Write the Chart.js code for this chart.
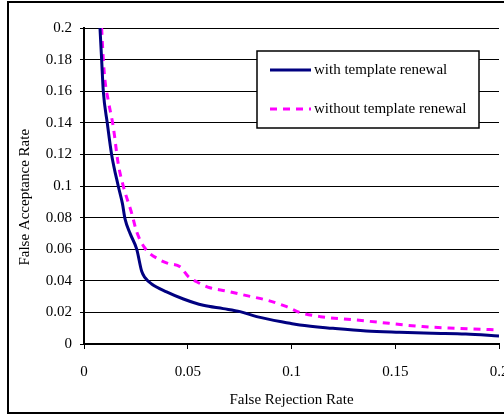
<!DOCTYPE html>
<html>
<head>
<meta charset="utf-8">
<script src="https://cdn.jsdelivr.net/npm/chart.js@4/dist/chart.umd.min.js"></script>
<style>
  html, body { margin: 0; padding: 0; overflow: hidden; background: #fff; }
  #wrap { position: absolute; left: 0; top: 0; width: 530px; height: 415px; }
  #frame { position: absolute; left: 7px; top: 1px; width: 600px; height: 413px;
           box-sizing: border-box; border: 2px solid #000; pointer-events: none; }
</style>
</head>
<body>
<div id="wrap"><canvas id="roc"></canvas></div>
<div id="frame"></div>
<script>
// FRR / FAR readings
const withRenewalFRR = [0.0077, 0.0085, 0.0093, 0.0112, 0.0133, 0.0165, 0.0185, 0.0198, 0.0222, 0.0254,
  0.0278, 0.0294, 0.0326, 0.0398, 0.0479, 0.0575, 0.0671, 0.0752, 0.0832, 0.0993,
  0.104, 0.12, 0.136, 0.152, 0.168, 0.184, 0.2];
const withRenewalFAR = [0.2, 0.18, 0.16, 0.14, 0.12, 0.1, 0.089, 0.079, 0.07, 0.06,
  0.046, 0.042, 0.038, 0.033, 0.0285, 0.0245, 0.0224, 0.0205, 0.0173, 0.0131,
  0.012, 0.0099, 0.0082, 0.0074, 0.0068, 0.0063, 0.005];

const withoutRenewalFRR = [0.0085, 0.0093, 0.0101, 0.0117, 0.0141, 0.0165, 0.019, 0.023, 0.0254, 0.0294,
  0.0366, 0.0406, 0.0463, 0.0503, 0.0543, 0.0607, 0.0688, 0.0784, 0.088, 0.0977,
  0.104, 0.114, 0.131, 0.147, 0.163, 0.181, 0.2];
const withoutRenewalFAR = [0.2, 0.18, 0.167, 0.154, 0.1375, 0.114, 0.0996, 0.0827, 0.071, 0.0606,
  0.0532, 0.051, 0.0489, 0.0426, 0.0394, 0.0356, 0.0335, 0.0306, 0.0278, 0.0236,
  0.02, 0.0173, 0.0152, 0.0131, 0.011, 0.0099, 0.0089];

const seriesNames = ['with template renewal', 'without template renewal'];
const xTickLabels = ['0', '0.05', '0.1', '0.15', '0.2'];
const yTickLabels = ['0', '0.02', '0.04', '0.06', '0.08', '0.1', '0.12', '0.14', '0.16', '0.18', '0.2'];

const FONT = { family: '"Liberation Serif", "Times New Roman", serif', size: 15 };
const NAVY = '#000080';
const MAGENTA = '#ff00ff';

const toPoints = (xs, ys) => xs.map((x, i) => ({ x, y: ys[i] }));

// legend box drawn inside the plot, like the original
const boxLegend = {
  id: 'boxLegend',
  afterDraw(chart) {
    const ctx = chart.ctx;
    const left = 257, top = 51, w = 222, h = 77;
    ctx.save();
    ctx.fillStyle = '#fff';
    ctx.fillRect(left, top, w, h);
    ctx.strokeStyle = '#000';
    ctx.lineWidth = 1.5;
    ctx.strokeRect(left, top, w, h);
    ctx.font = `${FONT.size}px ${FONT.family}`;
    ctx.textBaseline = 'middle';
    ctx.fillStyle = '#000';
    chart.data.datasets.forEach((ds, i) => {
      const y = top + 19 + i * 39;
      ctx.beginPath();
      ctx.strokeStyle = ds.borderColor;
      ctx.lineWidth = ds.borderWidth;
      ctx.setLineDash(ds.borderDash || []);
      ctx.moveTo(270, y);
      ctx.lineTo(311, y);
      ctx.stroke();
      ctx.setLineDash([]);
      ctx.fillText(ds.label, 314, y);
    });
    ctx.restore();
  }
};

new Chart(document.getElementById('roc'), {
  type: 'line',
  data: {
    datasets: [
      {
        label: seriesNames[0],
        data: toPoints(withRenewalFRR, withRenewalFAR),
        borderColor: NAVY,
        borderWidth: 3,
        pointRadius: 0,
        cubicInterpolationMode: 'monotone',
      },
      {
        label: seriesNames[1],
        data: toPoints(withoutRenewalFRR, withoutRenewalFAR),
        borderColor: MAGENTA,
        borderWidth: 3,
        borderDash: [7, 6],
        pointRadius: 0,
        cubicInterpolationMode: 'monotone',
      }
    ]
  },
  options: {
    responsive: true,
    maintainAspectRatio: false,
    animation: false,
    layout: { padding: { top: 28, right: 31, left: 0, bottom: 0 } },
    plugins: { legend: { display: false }, tooltip: { enabled: false } },
    scales: {
      x: {
        type: 'linear',
        min: 0, max: 0.2,
        ticks: { stepSize: 0.05, color: '#000', font: FONT, padding: 14, maxRotation: 0,
                 callback: (v, i) => xTickLabels[i] },
        grid: { drawOnChartArea: false, drawTicks: true, tickLength: 5, color: '#000' },
        border: { display: true, color: '#000', width: 2 },
        title: { display: true, text: 'False Rejection Rate', color: '#000', font: FONT,
                 padding: { top: 0, bottom: 6 } },
        afterFit: s => { s.height = 71; }
      },
      y: {
        min: 0, max: 0.2,
        ticks: { stepSize: 0.02, color: '#000', font: FONT, padding: 8,
                 callback: (v, i) => yTickLabels[i] },
        grid: { color: '#000', lineWidth: 1, tickLength: 4 },
        border: { display: true, color: '#000', width: 2 },
        title: { display: true, text: 'False Acceptance Rate      ', color: '#000', font: FONT,
                 padding: { top: 16, bottom: 0 } },
        afterFit: s => { s.width = 84; }
      }
    }
  },
  plugins: [boxLegend]
});
</script>
</body>
</html>
